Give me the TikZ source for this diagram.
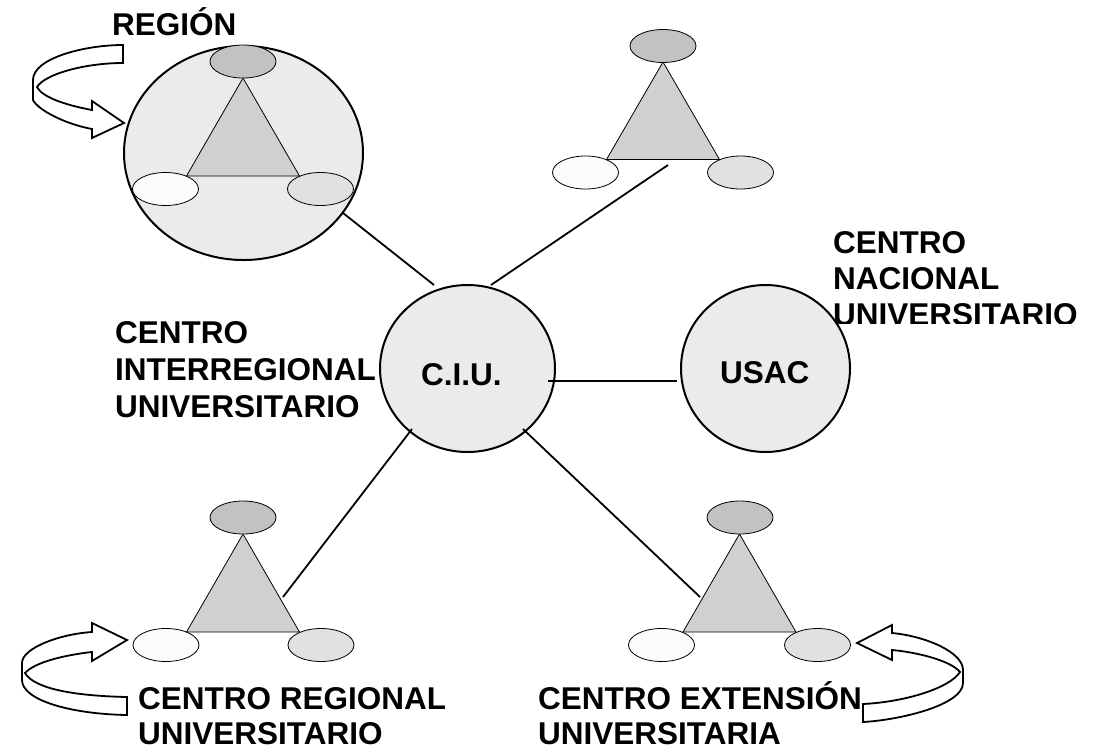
\documentclass[tikz,border=0pt]{standalone}
\usepackage{fontspec}
\setmainfont{Liberation Sans}
\usetikzlibrary{shapes.geometric}
\definecolor{circfill}{RGB}{235,235,235}
\definecolor{topfill}{RGB}{194,194,194}
\definecolor{trifill}{RGB}{208,208,208}
\definecolor{leftfill}{RGB}{251,251,251}
\definecolor{rightfill}{RGB}{225,225,225}
\begin{document}
\begin{tikzpicture}[x=1pt,y=-1pt,
  bigcirc/.style={ellipse, draw=black, line width=2pt, fill=circfill, inner sep=0pt},
  smallell/.style={ellipse, draw=black, line width=0.8pt, inner sep=0pt, minimum width=66pt, minimum height=33pt},
  trishape/.style={draw=black, line width=0.8pt, fill=trifill, line join=miter},
  conn/.style={draw=black, line width=1.8pt},
  lbl/.style={font=\fontsize{31.5}{37}\selectfont\bfseries, inner sep=0pt, anchor=base west},
  curvarrow/.style={draw=black, line width=1.8pt, fill=white, line join=miter},
]
\useasboundingbox (0,0) rectangle (1109,748);

% ---- big circles ----
\node[bigcirc, minimum width=239pt, minimum height=214pt] (region) at (243.5,153) {};
\node[bigcirc, minimum width=175pt, minimum height=167pt] (ciu) at (467.5,368.5) {};
\node[bigcirc, minimum width=169pt, minimum height=167pt] (usac) at (765.5,368.5) {};

% ---- triangle groups ----
% region group
\draw[trishape] (243,78) -- (299.5,176) -- (186.5,176) -- cycle;
\node[smallell, fill=topfill] (regTop) at (243,61.5) {};
\node[smallell, fill=leftfill] (regLeft) at (165.5,189) {};
\node[smallell, fill=rightfill] (regRight) at (320.5,189) {};
% top-right group
\draw[trishape] (663,62) -- (719.5,159.5) -- (606.5,159.5) -- cycle;
\node[smallell, fill=topfill] (trTop) at (663,46) {};
\node[smallell, fill=leftfill] (trLeft) at (585.5,172.5) {};
\node[smallell, fill=rightfill] (trRight) at (740.5,172.5) {};
% bottom-left group
\draw[trishape] (243,534) -- (299.5,632) -- (186.5,632) -- cycle;
\node[smallell, fill=topfill] (blTop) at (243,517.5) {};
\node[smallell, fill=leftfill] (blLeft) at (166,645) {};
\node[smallell, fill=rightfill] (blRight) at (321,645) {};
% bottom-right group
\draw[trishape] (739.5,534) -- (796,632) -- (683,632) -- cycle;
\node[smallell, fill=topfill] (brTop) at (740,517.5) {};
\node[smallell, fill=leftfill] (brLeft) at (661.5,645) {};
\node[smallell, fill=rightfill] (brRight) at (817.5,645) {};

% ---- connector ends ----
\coordinate (regionEnd) at (343,213);
\coordinate (ciuNW) at (434,285);
\coordinate (trEnd) at (668,165);
\coordinate (ciuNE) at (491,285);
\coordinate (ciuSW) at (412,429);
\coordinate (blEnd) at (283,597);
\coordinate (ciuSE) at (523,429);
\coordinate (brEnd) at (700,597);
\coordinate (ciuE) at (548,381);
\coordinate (usacW) at (677,381);

\draw[conn] (regionEnd) -- (ciuNW);
\draw[conn] (trEnd) -- (ciuNE);
\draw[conn] (ciuSW) -- (blEnd);
\draw[conn] (ciuSE) -- (brEnd);
\draw[conn] (ciuE) -- (usacW);

% ---- curved arrows ----
\draw[curvarrow] (123,45) .. controls (85,45) and (33,58) .. (33,80) -- (33,100)
  .. controls (38,110) and (65,124) .. (92,129) -- (92,138) -- (124,123) -- (92,101) -- (92,110)
  .. controls (65,105) and (42,97) .. (37,87)
  .. controls (45,74) and (85,63) .. (123,63) -- cycle;
\draw[curvarrow] (92,632) .. controls (60,634) and (22,648) .. (22,663) -- (22,680)
  .. controls (22,700) and (70,714) .. (127,715) -- (127,697)
  .. controls (80,696) and (35,690) .. (25,673)
  .. controls (35,662) and (65,655) .. (92,652) -- (92,661) -- (127,640) -- (92,623) -- cycle;
\draw[curvarrow] (892,633) .. controls (925,636) and (963,652) .. (963,670) -- (963,683)
  .. controls (963,705) and (900,720) .. (863,722) -- (863,704)
  .. controls (905,702) and (950,688) .. (960,672)
  .. controls (950,660) and (915,652) .. (892,650) -- (892,660) -- (857,643) -- (892,625) -- cycle;

% ---- texts ----
\node[lbl] (tRegion) at (112,35) {REGIÓN};
\node[lbl] (tCiu) at (421,385) {C.I.U.};
\node[lbl] (tUsac) at (720,383) {USAC};
\node[lbl] (tInter1) at (115,343) {CENTRO};
\node[lbl] (tInter2) at (115,380) {INTERREGIONAL};
\node[lbl] (tInter3) at (115,417) {UNIVERSITARIO};
\node[lbl] (tNac1) at (833,253) {CENTRO};
\node[lbl] (tNac2) at (833,289) {NACIONAL};
\begin{scope}
\clip (820,290) rectangle (1109,323);
\node[lbl] (tNac3) at (833,325) {UNIVERSITARIO};
\end{scope}
\node[lbl] (tReg1) at (138,709) {CENTRO REGIONAL};
\node[lbl] (tReg2) at (138,744) {UNIVERSITARIO};
\node[lbl] (tExt1) at (538,709) {CENTRO EXTENSIÓN};
\node[lbl] (tExt2) at (538,744) {UNIVERSITARIA};
\end{tikzpicture}
\end{document}
